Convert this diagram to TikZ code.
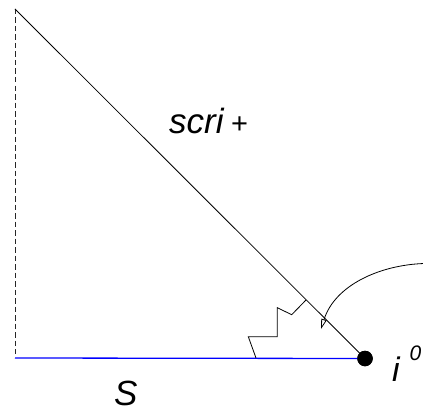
\documentclass[tikz,border=0pt]{standalone}
\usepackage{fontspec}
\setmainfont{Liberation Sans}
\usetikzlibrary{arrows.meta}
\begin{document}
\begin{tikzpicture}[x=1pt,y=-1pt,
  lbl/.style={anchor=base west,inner sep=0pt,font=\fontsize{35}{42}\selectfont\itshape},
  thinline/.style={line width=0.8pt,black},
  dotnode/.style={circle,fill=black,inner sep=0pt,minimum size=15.5pt}]
\useasboundingbox (0,0) rectangle (423,412);
% points
\coordinate (top) at (15,9);
\coordinate (dashend) at (15,354);
\coordinate (bl) at (15,358);
\node[dotnode] (dot) at (365,358.5) {};
\coordinate (z0) at (256,358);
\coordinate (z1) at (248.3,336.7);
\coordinate (z2) at (277.3,336.7);
\coordinate (z3) at (277.3,307.7);
\coordinate (z4) at (291.7,314.7);
\coordinate (z5) at (306,300);
\coordinate (astart) at (424,263.5);
\coordinate (atip) at (321,329);
% lines
\draw[line width=0.8pt,black!85,dash pattern=on 5.5pt off 3pt] (top) -- (dashend);
\draw[thinline] (top) -- (dot.center);
\draw[line width=1.3pt,blue] (bl) -- (dot.center);
\draw[thinline,line join=miter] (z0) -- (z1) -- (z2) -- (z3) -- (z4) -- (z5);
\draw[thinline,-{Triangle[open,length=10pt,width=5.5pt]}] (astart) .. controls (380,265) and (335,285) .. (atip);
\node[dotnode] at (dot) {};
% labels
\node[lbl] (scri) at (169,133.5) {scri};
\node[anchor=base west,inner sep=0pt,font=\fontsize{29}{34}\selectfont] (plus) at (231,133) {+};
\node[lbl] (S) at (114,405.5) {S};
\node[lbl,font=\fontsize{34}{40}\selectfont\itshape] (i) at (392,381) {i};
\node[anchor=base west,inner sep=0pt,font=\fontsize{21}{24}\selectfont\itshape] (zero) at (409.5,360) {0};
\end{tikzpicture}
\end{document}
